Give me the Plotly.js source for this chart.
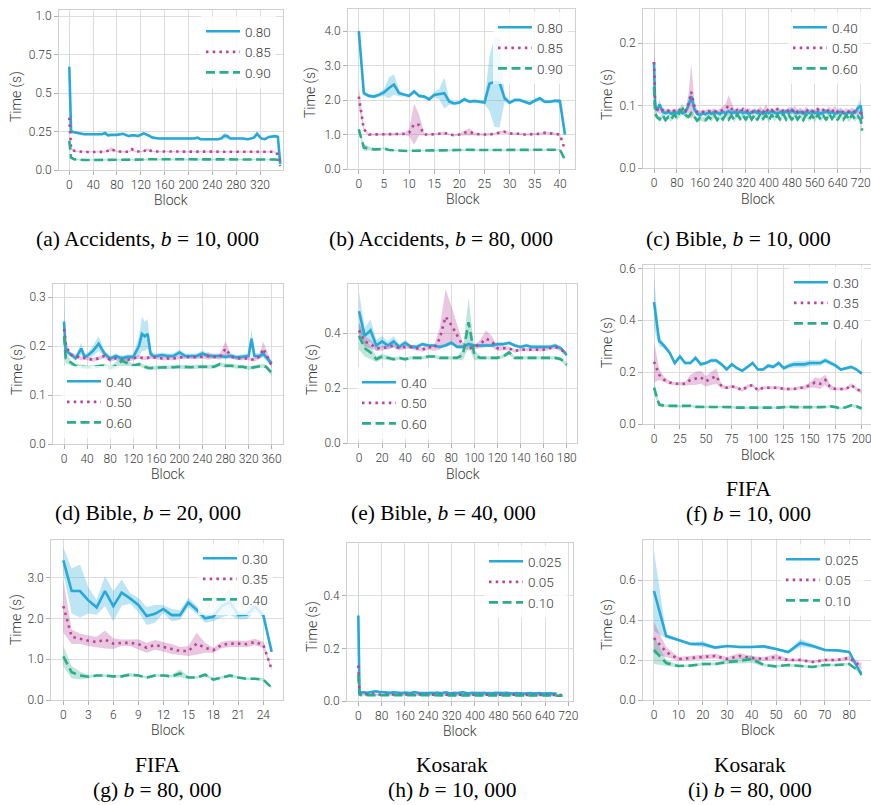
<!DOCTYPE html>
<html><head><meta charset="utf-8">
<script src="https://cdn.plot.ly/plotly-3.0.1.min.js"></script>
<style>html,body{margin:0;padding:0;background:#fff}#chart{width:871px;height:805px}</style>
</head><body><div id="chart"></div>
<script>
// ---------- series labels ----------
const labAcc = ['0.80','0.85','0.90'];
const labBible = ['0.40','0.50','0.60'];
const labFifa = ['0.30','0.35','0.40'];
const labKos = ['0.025','0.05','0.10'];

// ---------- (a) Accidents, b=10,000 ----------
const xA = [0,3,8,15,25,35,45,55,60,65,70,80,90,100,105,110,115,125,130,140,150,160,170,180,190,200,210,215,220,230,240,250,255,260,265,270,280,290,300,310,315,322,328,335,345,350,354];
const a080 = [0.67,0.25,0.245,0.238,0.232,0.232,0.232,0.232,0.24,0.225,0.228,0.228,0.235,0.22,0.225,0.225,0.22,0.238,0.23,0.21,0.205,0.205,0.207,0.205,0.205,0.205,0.205,0.21,0.2,0.2,0.2,0.2,0.205,0.222,0.22,0.205,0.205,0.205,0.2,0.21,0.235,0.205,0.2,0.215,0.22,0.215,0.04];
const a080e = [0.2,0.015,0.006,0.006,0.006,0.006,0.006,0.006,0.012,0.006,0.006,0.006,0.006,0.006,0.006,0.006,0.006,0.008,0.006,0.006,0.006,0.006,0.006,0.006,0.006,0.006,0.006,0.006,0.006,0.006,0.006,0.006,0.008,0.02,0.015,0.006,0.006,0.006,0.006,0.006,0.012,0.006,0.006,0.006,0.008,0.008,0.01];
const a085 = [0.34,0.14,0.125,0.12,0.117,0.117,0.117,0.117,0.118,0.125,0.135,0.12,0.118,0.118,0.135,0.12,0.12,0.12,0.135,0.12,0.12,0.12,0.12,0.122,0.12,0.118,0.118,0.118,0.118,0.12,0.118,0.12,0.12,0.12,0.12,0.12,0.118,0.118,0.118,0.118,0.12,0.118,0.118,0.118,0.118,0.1,0.05];
const a085e = [0.03,0.01,0.005,0.004,0.004,0.004,0.004,0.004,0.004,0.008,0.012,0.005,0.004,0.004,0.008,0.005,0.004,0.004,0.008,0.004,0.004,0.004,0.004,0.004,0.004,0.004,0.004,0.004,0.004,0.004,0.004,0.004,0.004,0.004,0.004,0.004,0.004,0.004,0.004,0.004,0.004,0.004,0.004,0.004,0.004,0.006,0.008];
const a090 = [0.19,0.08,0.07,0.066,0.065,0.065,0.065,0.065,0.065,0.065,0.065,0.065,0.065,0.066,0.066,0.066,0.066,0.068,0.07,0.07,0.07,0.07,0.07,0.068,0.068,0.068,0.068,0.068,0.068,0.068,0.068,0.068,0.07,0.07,0.068,0.068,0.068,0.068,0.068,0.068,0.068,0.068,0.068,0.068,0.068,0.065,0.025];
const a090e = [0.025,0.008,0.004,0.004,0.004,0.004,0.004,0.004,0.004,0.004,0.004,0.004,0.004,0.004,0.004,0.004,0.004,0.004,0.004,0.004,0.004,0.004,0.004,0.004,0.004,0.004,0.004,0.004,0.004,0.004,0.004,0.004,0.004,0.004,0.004,0.004,0.004,0.004,0.004,0.004,0.004,0.004,0.004,0.004,0.004,0.004,0.006];

// ---------- (b) Accidents, b=80,000 ----------
const xB = [0,1,2,3,4,5,6,7,8,9,10,11,12,13,14,15,16,17,18,19,20,21,22,23,24,25,26,27,28,29,30,31,32,33,34,35,36,37,38,39,40,41];
const b080 = [4.0,2.2,2.12,2.1,2.15,2.22,2.35,2.45,2.2,2.15,2.12,2.25,2.12,2.1,2.02,2.15,2.17,2.2,1.95,1.9,1.93,2.02,1.95,1.97,1.95,1.93,2.48,2.52,2.5,2.05,1.92,2.0,2.0,1.95,1.9,1.98,2.05,1.95,1.95,1.98,1.97,1.0];
const b080e = [0.05,0.06,0.05,0.05,0.06,0.1,0.3,0.3,0.1,0.05,0.05,0.06,0.05,0.05,0.05,0.08,0.15,0.45,0.08,0.05,0.05,0.06,0.05,0.05,0.05,0.05,0.8,1.3,1.3,0.1,0.05,0.06,0.05,0.05,0.05,0.06,0.06,0.06,0.05,0.05,0.06,0.05];
const b085 = [2.1,1.15,1.0,1.0,1.02,1.0,1.0,1.0,1.0,1.02,1.05,1.3,1.28,1.0,1.0,1.0,1.02,1.05,1.0,0.98,1.0,1.05,1.08,1.02,1.0,1.0,1.0,1.02,1.06,1.08,1.03,1.03,1.02,1.0,1.0,1.0,1.02,1.05,1.03,1.02,1.0,0.55];
const b085e = [0.3,0.06,0.03,0.03,0.03,0.03,0.03,0.03,0.03,0.03,0.1,0.6,0.3,0.03,0.03,0.03,0.03,0.04,0.03,0.03,0.03,0.06,0.1,0.04,0.03,0.03,0.03,0.03,0.04,0.04,0.03,0.03,0.03,0.03,0.03,0.03,0.03,0.04,0.03,0.03,0.03,0.03];
const b090 = [1.15,0.62,0.6,0.57,0.57,0.6,0.55,0.54,0.53,0.53,0.52,0.53,0.53,0.53,0.53,0.53,0.53,0.53,0.53,0.54,0.55,0.56,0.55,0.55,0.55,0.55,0.55,0.55,0.55,0.55,0.55,0.55,0.55,0.55,0.55,0.56,0.56,0.56,0.56,0.56,0.56,0.27];
const b090e = [0.08,0.1,0.06,0.03,0.02,0.03,0.02,0.02,0.02,0.02,0.02,0.02,0.02,0.02,0.02,0.02,0.02,0.02,0.02,0.02,0.02,0.02,0.02,0.02,0.02,0.02,0.02,0.02,0.02,0.02,0.02,0.02,0.02,0.02,0.02,0.02,0.02,0.02,0.02,0.02,0.02,0.02];

// ---------- (c) Bible, b=10,000 ----------
const xC = [0,4,10,20,30,40,50,60,70,80,90,100,110,120,130,140,150,160,170,180,190,200,210,220,230,240,250,260,270,280,290,300,310,320,330,340,350,360,370,380,390,400,410,420,430,440,450,460,470,480,490,500,510,520,530,540,550,560,570,580,590,600,610,620,630,640,650,660,670,680,690,700,710,720,725];
const c040 = [0.17,0.1,0.092,0.102,0.09,0.088,0.09,0.087,0.09,0.088,0.092,0.088,0.09,0.1,0.115,0.095,0.087,0.085,0.088,0.086,0.089,0.087,0.09,0.088,0.087,0.09,0.088,0.091,0.088,0.09,0.087,0.091,0.088,0.09,0.087,0.089,0.091,0.088,0.09,0.087,0.09,0.088,0.091,0.089,0.087,0.09,0.088,0.091,0.088,0.093,0.089,0.088,0.09,0.087,0.09,0.088,0.091,0.088,0.09,0.087,0.089,0.091,0.088,0.09,0.087,0.089,0.09,0.088,0.087,0.09,0.088,0.089,0.096,0.1,0.08];
const c040e = [0.06,0.01,0.005,0.008,0.004,0.004,0.004,0.004,0.004,0.004,0.004,0.004,0.004,0.006,0.01,0.005,0.004,0.004,0.004,0.004,0.004,0.004,0.004,0.004,0.004,0.004,0.004,0.004,0.004,0.004,0.004,0.004,0.004,0.004,0.004,0.004,0.004,0.004,0.004,0.004,0.004,0.004,0.004,0.004,0.004,0.004,0.004,0.004,0.004,0.006,0.004,0.004,0.004,0.004,0.004,0.004,0.004,0.004,0.004,0.004,0.004,0.004,0.004,0.004,0.004,0.004,0.004,0.004,0.004,0.004,0.004,0.004,0.008,0.012,0.006];
const c050 = [0.17,0.1,0.095,0.09,0.093,0.09,0.092,0.089,0.092,0.09,0.093,0.09,0.092,0.103,0.122,0.1,0.09,0.088,0.09,0.089,0.091,0.09,0.092,0.089,0.091,0.093,0.095,0.1,0.095,0.09,0.093,0.09,0.094,0.09,0.093,0.089,0.092,0.09,0.094,0.09,0.096,0.09,0.093,0.089,0.094,0.09,0.092,0.089,0.094,0.09,0.095,0.09,0.093,0.089,0.094,0.09,0.092,0.089,0.094,0.09,0.093,0.089,0.094,0.09,0.095,0.09,0.093,0.089,0.092,0.09,0.093,0.09,0.09,0.088,0.078];
const c050e = [0.04,0.008,0.004,0.004,0.004,0.004,0.004,0.004,0.004,0.004,0.004,0.004,0.004,0.015,0.045,0.01,0.004,0.004,0.004,0.004,0.004,0.004,0.004,0.004,0.004,0.006,0.008,0.017,0.01,0.004,0.004,0.004,0.005,0.004,0.004,0.004,0.004,0.004,0.005,0.004,0.006,0.004,0.004,0.004,0.005,0.004,0.004,0.004,0.005,0.004,0.005,0.004,0.004,0.004,0.005,0.004,0.004,0.004,0.005,0.004,0.004,0.004,0.005,0.004,0.005,0.004,0.004,0.004,0.004,0.004,0.004,0.004,0.004,0.004,0.006];
const c060 = [0.13,0.088,0.082,0.078,0.085,0.077,0.082,0.078,0.086,0.08,0.09,0.095,0.085,0.082,0.088,0.083,0.076,0.08,0.078,0.077,0.082,0.078,0.085,0.077,0.083,0.078,0.086,0.078,0.084,0.077,0.086,0.079,0.085,0.077,0.087,0.078,0.085,0.077,0.087,0.079,0.085,0.076,0.086,0.078,0.085,0.077,0.087,0.078,0.085,0.077,0.086,0.078,0.084,0.077,0.086,0.078,0.085,0.077,0.086,0.078,0.084,0.077,0.087,0.079,0.085,0.077,0.086,0.078,0.085,0.077,0.086,0.078,0.083,0.077,0.06];
const c060e = [0.01,0.006,0.004,0.004,0.004,0.004,0.004,0.004,0.004,0.004,0.008,0.008,0.005,0.004,0.004,0.004,0.004,0.004,0.004,0.004,0.004,0.004,0.004,0.004,0.004,0.004,0.004,0.004,0.004,0.004,0.004,0.004,0.004,0.004,0.004,0.004,0.004,0.004,0.004,0.004,0.004,0.004,0.004,0.004,0.004,0.004,0.004,0.004,0.004,0.004,0.004,0.004,0.004,0.004,0.004,0.004,0.004,0.004,0.004,0.004,0.004,0.004,0.004,0.004,0.004,0.004,0.004,0.004,0.004,0.004,0.004,0.004,0.004,0.004,0.006];

// ---------- (d) Bible, b=20,000 ----------
const xD = [0,3,10,15,20,30,35,40,50,60,65,70,80,90,100,110,120,130,135,140,145,150,155,160,170,180,190,200,210,220,230,240,250,260,270,280,290,300,310,320,325,330,340,345,350,360];
const d040 = [0.25,0.19,0.185,0.18,0.175,0.195,0.18,0.18,0.19,0.205,0.195,0.185,0.175,0.18,0.175,0.178,0.178,0.2,0.225,0.22,0.225,0.185,0.18,0.18,0.182,0.18,0.18,0.187,0.18,0.18,0.18,0.185,0.18,0.18,0.18,0.178,0.18,0.177,0.178,0.18,0.215,0.18,0.18,0.185,0.178,0.165];
const d040e = [0.06,0.01,0.005,0.005,0.005,0.012,0.005,0.005,0.01,0.015,0.01,0.006,0.005,0.005,0.005,0.005,0.005,0.02,0.035,0.03,0.03,0.008,0.005,0.005,0.005,0.005,0.005,0.006,0.005,0.005,0.005,0.006,0.005,0.005,0.005,0.005,0.005,0.005,0.005,0.005,0.02,0.006,0.005,0.008,0.006,0.006];
const d050 = [0.235,0.205,0.183,0.182,0.18,0.175,0.176,0.175,0.172,0.175,0.177,0.18,0.172,0.175,0.172,0.172,0.175,0.178,0.176,0.175,0.176,0.178,0.177,0.177,0.175,0.175,0.175,0.177,0.178,0.178,0.177,0.178,0.18,0.178,0.178,0.195,0.178,0.175,0.175,0.175,0.173,0.172,0.18,0.195,0.185,0.16];
const d050e = [0.02,0.008,0.004,0.004,0.004,0.004,0.004,0.004,0.004,0.004,0.004,0.004,0.004,0.004,0.004,0.004,0.004,0.004,0.004,0.004,0.004,0.004,0.004,0.004,0.004,0.004,0.004,0.004,0.004,0.004,0.004,0.004,0.008,0.004,0.006,0.015,0.004,0.004,0.004,0.004,0.004,0.004,0.006,0.015,0.01,0.005];
const d060 = [0.22,0.175,0.168,0.163,0.16,0.158,0.157,0.157,0.157,0.16,0.16,0.16,0.155,0.16,0.17,0.165,0.16,0.163,0.16,0.158,0.156,0.155,0.156,0.156,0.157,0.157,0.157,0.158,0.157,0.157,0.158,0.158,0.158,0.158,0.163,0.16,0.16,0.158,0.158,0.155,0.156,0.157,0.16,0.16,0.158,0.145];
const d060e = [0.03,0.01,0.006,0.004,0.004,0.004,0.004,0.004,0.004,0.004,0.004,0.004,0.004,0.008,0.012,0.006,0.004,0.004,0.004,0.004,0.004,0.004,0.004,0.004,0.004,0.004,0.004,0.004,0.004,0.004,0.004,0.004,0.004,0.004,0.004,0.004,0.004,0.004,0.004,0.004,0.004,0.004,0.004,0.004,0.004,0.006];

// ---------- (e) Bible, b=40,000 ----------
const xE = [0,5,10,15,20,25,30,35,40,45,50,55,60,65,70,75,80,85,90,95,100,105,110,115,120,125,130,135,140,145,150,155,160,165,170,175,180];
const e040 = [0.48,0.39,0.41,0.355,0.37,0.355,0.37,0.35,0.365,0.35,0.35,0.36,0.355,0.355,0.35,0.355,0.365,0.35,0.35,0.36,0.355,0.355,0.355,0.355,0.36,0.36,0.365,0.355,0.35,0.355,0.35,0.35,0.35,0.35,0.355,0.345,0.32];
const e040e = [0.07,0.03,0.04,0.02,0.02,0.015,0.02,0.01,0.01,0.008,0.008,0.006,0.006,0.006,0.006,0.006,0.006,0.006,0.006,0.008,0.006,0.006,0.006,0.006,0.006,0.006,0.006,0.006,0.006,0.006,0.006,0.006,0.006,0.006,0.008,0.006,0.006];
const e050 = [0.41,0.37,0.36,0.345,0.345,0.35,0.355,0.345,0.35,0.35,0.345,0.34,0.35,0.345,0.38,0.46,0.43,0.39,0.355,0.345,0.35,0.36,0.38,0.37,0.345,0.345,0.345,0.335,0.34,0.34,0.34,0.34,0.34,0.345,0.35,0.34,0.325];
const e050e = [0.03,0.02,0.015,0.01,0.008,0.008,0.008,0.008,0.008,0.008,0.008,0.008,0.01,0.01,0.04,0.1,0.07,0.04,0.01,0.008,0.008,0.015,0.03,0.02,0.01,0.008,0.006,0.006,0.006,0.006,0.006,0.006,0.006,0.006,0.008,0.006,0.008];
const e060 = [0.39,0.345,0.33,0.305,0.315,0.31,0.305,0.31,0.305,0.31,0.31,0.31,0.315,0.315,0.31,0.31,0.31,0.31,0.32,0.44,0.32,0.31,0.31,0.31,0.31,0.315,0.33,0.31,0.31,0.31,0.31,0.31,0.31,0.31,0.31,0.305,0.285];
const e060e = [0.05,0.03,0.025,0.01,0.01,0.008,0.006,0.006,0.006,0.006,0.006,0.006,0.006,0.006,0.006,0.006,0.006,0.006,0.02,0.09,0.02,0.006,0.006,0.006,0.006,0.006,0.01,0.006,0.006,0.006,0.006,0.006,0.006,0.006,0.006,0.006,0.008];

// ---------- (f) FIFA, b=10,000 ----------
const xF = [0,5,10,15,20,25,30,35,40,45,50,55,60,65,70,75,80,85,90,95,100,105,110,115,120,125,130,135,140,145,150,155,160,165,170,175,180,185,190,195,200];
const f030 = [0.47,0.32,0.3,0.275,0.235,0.26,0.235,0.235,0.255,0.23,0.235,0.245,0.245,0.23,0.21,0.23,0.215,0.205,0.22,0.235,0.21,0.21,0.225,0.22,0.235,0.215,0.225,0.23,0.23,0.23,0.235,0.235,0.235,0.245,0.235,0.225,0.21,0.215,0.22,0.21,0.195];
const f030e = [0.1,0.02,0.01,0.008,0.008,0.01,0.006,0.006,0.01,0.008,0.006,0.008,0.008,0.006,0.006,0.006,0.006,0.006,0.006,0.006,0.006,0.006,0.008,0.008,0.008,0.008,0.01,0.012,0.012,0.012,0.012,0.012,0.01,0.01,0.01,0.008,0.006,0.006,0.006,0.006,0.008];
const f035 = [0.24,0.19,0.17,0.16,0.155,0.155,0.155,0.17,0.175,0.18,0.165,0.175,0.185,0.145,0.14,0.145,0.14,0.13,0.145,0.15,0.13,0.14,0.14,0.14,0.14,0.135,0.135,0.135,0.14,0.14,0.15,0.16,0.155,0.17,0.14,0.135,0.135,0.135,0.15,0.135,0.125];
const f035e = [0.08,0.02,0.01,0.008,0.006,0.006,0.008,0.02,0.025,0.025,0.02,0.025,0.03,0.008,0.006,0.006,0.006,0.006,0.006,0.006,0.006,0.006,0.006,0.006,0.006,0.006,0.006,0.006,0.006,0.008,0.01,0.02,0.02,0.02,0.01,0.006,0.006,0.006,0.008,0.006,0.008];
const f040 = [0.14,0.075,0.07,0.07,0.068,0.068,0.068,0.07,0.066,0.066,0.066,0.065,0.065,0.065,0.065,0.065,0.063,0.063,0.063,0.063,0.062,0.062,0.062,0.063,0.063,0.065,0.067,0.065,0.065,0.063,0.063,0.065,0.065,0.066,0.068,0.065,0.06,0.065,0.072,0.068,0.06];
const f040e = [0.025,0.008,0.005,0.004,0.004,0.004,0.004,0.004,0.004,0.004,0.004,0.004,0.004,0.004,0.004,0.004,0.004,0.004,0.004,0.004,0.004,0.004,0.004,0.004,0.004,0.004,0.004,0.004,0.004,0.004,0.004,0.004,0.004,0.004,0.004,0.004,0.004,0.005,0.006,0.005,0.006];

// ---------- (g) FIFA, b=80,000 ----------
const xG = [0,1,2,3,4,5,6,7,8,9,10,11,12,13,14,15,16,17,18,19,20,21,22,23,24,25];
const g030 = [3.42,2.67,2.67,2.44,2.27,2.67,2.3,2.63,2.49,2.33,2.06,2.11,2.23,2.08,2.08,2.39,2.21,2.0,2.04,2.3,2.4,2.08,2.09,2.29,2.08,1.18];
const g030e = [0.32,0.55,0.65,0.32,0.18,0.37,0.37,0.32,0.13,0.17,0.22,0.22,0.1,0.15,0.12,0.12,0.1,0.11,0.11,0.27,0.32,0.1,0.11,0.13,0.06,0.04];
const g035 = [2.3,1.55,1.5,1.45,1.42,1.48,1.38,1.4,1.4,1.37,1.28,1.35,1.3,1.25,1.2,1.2,1.38,1.28,1.22,1.35,1.38,1.38,1.37,1.42,1.35,0.75];
const g035e = [0.65,0.18,0.13,0.13,0.13,0.22,0.13,0.08,0.08,0.12,0.12,0.12,0.12,0.12,0.1,0.12,0.27,0.12,0.06,0.08,0.08,0.08,0.08,0.08,0.08,0.04];
const g040 = [1.07,0.68,0.6,0.57,0.6,0.6,0.58,0.58,0.62,0.6,0.55,0.6,0.6,0.58,0.65,0.55,0.55,0.62,0.5,0.55,0.6,0.55,0.52,0.52,0.5,0.3];
const g040e = [0.25,0.15,0.1,0.04,0.03,0.03,0.03,0.03,0.05,0.03,0.03,0.03,0.03,0.03,0.1,0.03,0.03,0.05,0.03,0.03,0.05,0.03,0.03,0.03,0.03,0.03];

// ---------- (h) Kosarak, b=10,000 ----------
const xH = [0,4,10,20,30,40,50,60,70,80,90,100,110,120,130,140,150,160,170,180,190,200,210,220,230,240,250,260,270,280,290,300,310,320,330,340,350,360,370,380,390,400,410,420,430,440,450,460,470,480,490,500,510,520,530,540,550,560,570,580,590,600,610,620,630,640,650,660,670,680,690,700];
const h025 = [0.325,0.035,0.032,0.033,0.031,0.033,0.036,0.037,0.035,0.034,0.033,0.032,0.031,0.033,0.032,0.031,0.03,0.032,0.031,0.03,0.034,0.031,0.03,0.03,0.029,0.03,0.031,0.03,0.032,0.03,0.031,0.033,0.03,0.029,0.031,0.03,0.032,0.033,0.03,0.029,0.031,0.03,0.029,0.03,0.031,0.029,0.03,0.029,0.031,0.03,0.029,0.03,0.031,0.029,0.028,0.03,0.029,0.03,0.028,0.029,0.03,0.028,0.029,0.03,0.028,0.029,0.028,0.029,0.028,0.028];
const h025e = [0.27,0.01,0.003,0.003,0.003,0.003,0.003,0.003,0.003,0.003,0.003,0.003,0.003,0.003,0.003,0.003,0.003,0.003,0.003,0.003,0.003,0.003,0.003,0.003,0.003,0.003,0.003,0.003,0.003,0.003,0.003,0.003,0.003,0.003,0.003,0.003,0.003,0.003,0.003,0.003,0.003,0.003,0.003,0.003,0.003,0.003,0.003,0.003,0.003,0.003,0.003,0.003,0.003,0.003,0.003,0.003,0.003,0.003,0.003,0.003,0.003,0.003,0.003,0.003,0.003,0.003,0.003,0.003,0.003,0.003];
const h05 = [0.135,0.03,0.027,0.026,0.026,0.025,0.026,0.027,0.025,0.025,0.024,0.025,0.024,0.025,0.024,0.024,0.025,0.024,0.024,0.025,0.024,0.025,0.024,0.024,0.025,0.024,0.024,0.025,0.024,0.024,0.025,0.024,0.025,0.024,0.024,0.025,0.024,0.024,0.025,0.024,0.024,0.025,0.024,0.024,0.025,0.024,0.024,0.025,0.024,0.024,0.025,0.024,0.024,0.025,0.024,0.024,0.023,0.024,0.024,0.023,0.024,0.023,0.024,0.023,0.023,0.024,0.023,0.023,0.024,0.023,0.023,0.022];
const h05e = [0.02,0.006,0.003,0.003,0.003,0.003,0.003,0.003,0.003,0.003,0.003,0.003,0.003,0.003,0.003,0.003,0.003,0.003,0.003,0.003,0.003,0.003,0.003,0.003,0.003,0.003,0.003,0.003,0.003,0.003,0.003,0.003,0.003,0.003,0.003,0.003,0.003,0.003,0.003,0.003,0.003,0.003,0.003,0.003,0.003,0.003,0.003,0.003,0.003,0.003,0.003,0.003,0.003,0.003,0.003,0.003,0.003,0.003,0.003,0.003,0.003,0.003,0.003,0.003,0.003,0.003,0.003,0.003,0.003,0.003,0.003,0.003];
const h10 = [0.1,0.025,0.022,0.022,0.022,0.021,0.022,0.022,0.021,0.022,0.021,0.022,0.021,0.022,0.021,0.021,0.022,0.021,0.022,0.021,0.022,0.021,0.022,0.021,0.021,0.022,0.021,0.022,0.021,0.023,0.022,0.021,0.022,0.021,0.022,0.021,0.021,0.022,0.021,0.022,0.021,0.022,0.021,0.021,0.022,0.021,0.022,0.021,0.022,0.021,0.021,0.022,0.021,0.022,0.021,0.021,0.022,0.021,0.021,0.022,0.021,0.021,0.022,0.021,0.021,0.022,0.021,0.021,0.02,0.021,0.02,0.02];
const h10e = [0.02,0.005,0.003,0.003,0.003,0.003,0.003,0.003,0.003,0.003,0.003,0.003,0.003,0.003,0.003,0.003,0.003,0.003,0.003,0.003,0.003,0.003,0.003,0.003,0.003,0.003,0.003,0.003,0.003,0.003,0.003,0.003,0.003,0.003,0.003,0.003,0.003,0.003,0.003,0.003,0.003,0.003,0.003,0.003,0.003,0.003,0.003,0.003,0.003,0.003,0.003,0.003,0.003,0.003,0.003,0.003,0.003,0.003,0.003,0.003,0.003,0.003,0.003,0.003,0.003,0.003,0.003,0.003,0.003,0.003,0.003,0.003];

// ---------- (i) Kosarak, b=80,000 ----------
const xI = [0,5,10,15,20,25,30,35,40,45,50,55,60,65,70,75,80,85];
const i025 = [0.545,0.32,0.3,0.28,0.28,0.262,0.27,0.265,0.265,0.268,0.255,0.24,0.285,0.27,0.25,0.248,0.24,0.125];
const i025e = [0.2,0.012,0.008,0.008,0.015,0.006,0.006,0.006,0.006,0.008,0.006,0.006,0.02,0.01,0.006,0.006,0.006,0.01];
const i05 = [0.31,0.24,0.205,0.21,0.215,0.22,0.205,0.22,0.21,0.205,0.215,0.2,0.2,0.19,0.2,0.2,0.21,0.165];
const i05e = [0.08,0.025,0.01,0.01,0.012,0.012,0.01,0.015,0.01,0.01,0.015,0.008,0.008,0.006,0.008,0.008,0.01,0.02];
const i10 = [0.25,0.185,0.17,0.172,0.18,0.18,0.19,0.195,0.205,0.175,0.168,0.175,0.17,0.165,0.175,0.175,0.18,0.135];
const i10e = [0.07,0.015,0.006,0.006,0.008,0.008,0.01,0.012,0.02,0.008,0.006,0.006,0.006,0.006,0.006,0.006,0.006,0.01];

// ---------- tick labels ----------
const ytA = [0,0.25,0.5,0.75,1.0], ytlA = ['0.0','0.25','0.5','0.75','1.0'];
const ytB = [0,1,2,3,4], ytlB = ['0.0','1.0','2.0','3.0','4.0'];
const ytC = [0,0.1,0.2], ytlC = ['0.0','0.1','0.2'];
const ytD = [0,0.1,0.2,0.3], ytlD = ['0.0','0.1','0.2','0.3'];
const ytE = [0,0.2,0.4], ytlE = ['0.0','0.2','0.4'];
const ytF = [0,0.2,0.4,0.6], ytlF = ['0.0','0.2','0.4','0.6'];
const ytG = [0,1,2,3], ytlG = ['0.0','1.0','2.0','3.0'];
const ytH = [0,0.2,0.4], ytlH = ['0.0','0.2','0.4'];
const ytI = [0,0.2,0.4,0.6], ytlI = ['0.0','0.2','0.4','0.6'];

// ---------- captions ----------
const captions = [
  ['(a) Accidents, <i>b</i> = 10, 000'], ['(b) Accidents, <i>b</i> = 80, 000'], ['(c) Bible, <i>b</i> = 10, 000'],
  ['(d) Bible, <i>b</i> = 20, 000'], ['(e) Bible, <i>b</i> = 40, 000'], ['FIFA','(f) <i>b</i> = 10, 000'],
  ['FIFA','(g) <i>b</i> = 80, 000'], ['Kosarak','(h) <i>b</i> = 10, 000'], ['Kosarak','(i) <i>b</i> = 80, 000']
];

// ---------- layout table (pixel geometry) ----------
const W = 871, H = 805;
const P = [
 {x:xA,y:[a080,a085,a090],e:[a080e,a085e,a090e],lab:labAcc,box:[59,283,10,170],xr:[-17.3,358.6],yr:[0,1.039],dx:40,yv:ytA,yl:ytlA,lg:[201,16],blk:[171,200],tim:[17,97],cap:[147,[239]]},
 {x:xB,y:[b080,b085,b090],e:[b080e,b085e,b090e],lab:labAcc,box:[348,575,9,169],xr:[-2.15,43.0],yr:[0,4.64],dx:5,yv:ytB,yl:ytlB,lg:[493,12],blk:[463,199],tim:[311,93],cap:[441,[239]]},
 {x:xC,y:[c040,c050,c060],e:[c040e,c050e,c060e],lab:labBible,box:[643,871,9,168],xr:[-38.3,755.8],yr:[0,0.255],dx:80,yv:ytC,yl:ytlC,lg:[788,12],blk:[758,199],tim:[607,95],cap:[738,[239]]},
 {x:xD,y:[d040,d050,d060],e:[d040e,d050e,d060e],lab:labBible,box:[53,283,284,444],xr:[-19.1,379.6],yr:[0,0.327],dx:40,yv:ytD,yl:ytlD,lg:[62,366],blk:[168,474],tim:[17,370],cap:[148,[513]]},
 {x:xE,y:[e040,e050,e060],e:[e040e,e050e,e060e],lab:labBible,box:[348,577,284,443],xr:[-9.5,188.9],yr:[0,0.579],dx:20,yv:ytE,yl:ytlE,lg:[357,367],blk:[463,474],tim:[312,370],cap:[443,[513]]},
 {x:xF,y:[f030,f035,f040],e:[f030e,f035e,f040e],lab:labFifa,box:[643,871,265,424],xr:[-10.6,209],yr:[0,0.613],dx:25,yv:ytF,yl:ytlF,lg:[789,267],blk:[758,455],tim:[607,343],cap:[748,[489,514]]},
 {x:xG,y:[g030,g035,g040],e:[g030e,g035e,g040e],lab:labFifa,box:[51,283,540,700],xr:[-1.48,26.36],yr:[0,3.92],dx:3,yv:ytG,yl:ytlG,lg:[198,543],blk:[168,730],tim:[16,620],cap:[157,[765,790]]},
 {x:xH,y:[h025,h05,h10],e:[h025e,h05e,h10e],lab:labKos,box:[347,573,543,701],xr:[-38.8,736],yr:[0,0.601],dx:80,yv:ytH,yl:ytlH,lg:[484,546],blk:[460,731],tim:[312,627],cap:[452,[765,790]]},
 {x:xI,y:[i025,i05,i10],e:[i025e,i05e,i10e],lab:labKos,box:[643,871,540,700],xr:[-4.5,88.9],yr:[0,0.8],dx:10,yv:ytI,yl:ytlI,lg:[781,544],blk:[758,730],tim:[607,625],cap:[750,[765,790]]}
];

const colors = ['rgb(38,168,216)','rgb(184,68,154)','rgb(44,172,138)'];
const fills = ['rgba(38,168,216,0.3)','rgba(184,68,154,0.3)','rgba(44,172,138,0.3)'];
const dashes = ['solid','2.5px,4.2px','9px,4.5px'];
const sansFam = 'Roboto, Liberation Sans Narrow, sans-serif';
const tickFont = {family:sansFam, size:12, color:'#3a3a3a', weight:300};
const common = {showgrid:true, gridcolor:'#dddddd', gridwidth:1, zeroline:false, showline:true, mirror:true,
  linecolor:'#d0d0d0', linewidth:1, ticks:'outside', ticklen:4, tickcolor:'#b0b0b0', tickwidth:1, tickfont:tickFont,
  tickangle:0, ticklabeloverflow:'allow', automargin:false, fixedrange:true};

const layout = {width:W, height:H, margin:{l:0,r:0,t:0,b:0}, paper_bgcolor:'#fff', plot_bgcolor:'#fff', showlegend:true, hovermode:false, annotations:[]};
const bands = [], lines = [];
const px = v => v / W, py = v => 1 - v / H;

P.forEach((p, i) => {
  const n = i + 1, s = n > 1 ? n : '';
  const [l, r, t, b] = p.box;
  layout['xaxis' + s] = Object.assign({}, common, {domain:[px(l), px(r)], range:p.xr, anchor:'y' + s, tickmode:'linear', tick0:0, dtick:p.dx});
  layout['yaxis' + s] = Object.assign({}, common, {domain:[py(b), py(t)], range:p.yr, anchor:'x' + s, tickmode:'array', tickvals:p.yv, ticktext:p.yl});
  layout['legend' + s] = {x:px(p.lg[0]), y:py(p.lg[1]), xanchor:'left', yanchor:'top', bgcolor:'rgba(255,255,255,0.8)', borderwidth:0,
    font:{family:sansFam, size:13.5, color:'#3a3a3a', weight:300}, itemwidth:34, tracegroupgap:0};
  p.y.forEach((ys, k) => {
    const xs = p.x.slice(0, ys.length);
    const hi = ys.map((v, j) => v + p.e[k][j]);
    const lo = ys.map((v, j) => Math.max(0, v - p.e[k][j]));
    bands.push({type:'scatter', mode:'lines', x:xs.concat(xs.slice().reverse()), y:hi.concat(lo.slice().reverse()),
      xaxis:'x' + s, yaxis:'y' + s, fill:'toself', fillcolor:fills[k], line:{width:0, color:fills[k]}, showlegend:false, hoverinfo:'skip'});
    lines.push({type:'scatter', mode:'lines', x:xs, y:ys, name:p.lab[k], xaxis:'x' + s, yaxis:'y' + s, legend:'legend' + s,
      line:{color:colors[k], width:2.6, dash:dashes[k]}, hoverinfo:'skip'});
  });
  const axFont = {family:sansFam, size:14, color:'#3a3a3a', weight:300};
  layout.annotations.push({xref:'paper', yref:'paper', x:px(p.blk[0]), y:py(p.blk[1]), text:'Block', showarrow:false, xanchor:'center', yanchor:'middle', font:axFont});
  layout.annotations.push({xref:'paper', yref:'paper', x:px(p.tim[0]), y:py(p.tim[1]), text:'Time (s)', showarrow:false, xanchor:'center', yanchor:'middle', textangle:-90, font:axFont});
  const capFont = {family:'Liberation Serif, DejaVu Serif, serif', size:21.5, color:'#000'};
  captions[i].forEach((c, j) => {
    layout.annotations.push({xref:'paper', yref:'paper', x:px(p.cap[0]), y:py(p.cap[1][j]), text:c, showarrow:false, xanchor:'center', yanchor:'middle', font:capFont});
  });
});

Plotly.newPlot('chart', bands.concat(lines), layout, {staticPlot:true, displayModeBar:false});
</script></body></html>
